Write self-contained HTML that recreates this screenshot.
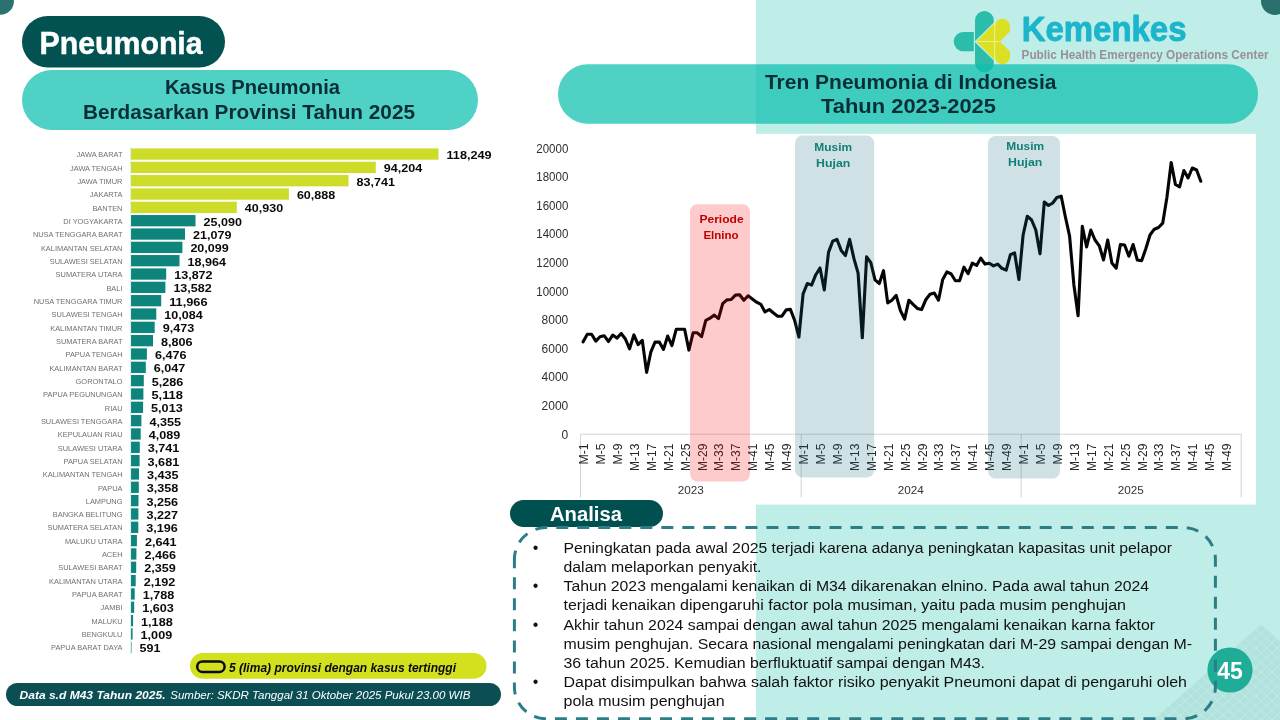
<!DOCTYPE html>
<html lang="id"><head><meta charset="utf-8"><title>Pneumonia</title>
<style>html,body{margin:0;padding:0;background:#fff}body{width:1280px;height:720px;overflow:hidden}svg{display:block}text{font-family:'Liberation Sans', sans-serif}</style></head><body>
<svg width="1280" height="720" viewBox="0 0 1280 720">
<rect x="0" y="0" width="1280" height="720" fill="#ffffff"/>
<rect x="756" y="0" width="524" height="720" fill="#bfede7"/>
<defs><pattern id="btk" width="10.8" height="9.6" patternUnits="userSpaceOnUse" patternTransform="translate(1255.6 624)"><path d="M5.4 0.5 L10.2 4.8 L5.4 9.1 L0.6 4.8 Z M0 -4.3 L4.8 0 L0 4.3 L-4.8 0 Z M10.8 -4.3 L15.6 0 L10.8 4.3 L6 0 Z M0 5.3 L4.8 9.6 L0 13.9 L-4.8 9.6 Z M10.8 5.3 L15.6 9.6 L10.8 13.9 L6 9.6 Z" fill="#afdfda"/></pattern></defs>
<path d="M1261 624 L1280 640.9 V720 H1153 Z" fill="url(#btk)" opacity="0.8"/>
<circle cx="0.3" cy="1.2" r="13.6" fill="#2a7270"/>
<circle cx="1275" cy="1" r="14" fill="#2b6e6e"/>
<g id="logo">
<path d="M973.8 31.9 H963.4 A9.7 9.7 0 0 0 963.4 51.3 H973.8 Z" fill="#2bbdaa"/>
<path d="M975 40.9 V20.4 A9.4 9.4 0 0 1 993.8 20.4 V22.6 Z" fill="#2bbdaa"/>
<path d="M975 42.3 V63.1 A9.4 9.4 0 0 0 993.8 63.1 V60.6 Z" fill="#2bbdaa"/>
<path d="M976.3 41.5 L995 22.8 V26.2 A7.5 7.5 0 0 1 1010 26.2 V31.4 L1000 41.5 L1010 51.6 V56.8 A7.5 7.5 0 0 1 995 56.8 V60.2 Z" fill="#dbe024"/>
<path d="M994.7 19.5 V63.5 M977.5 41.5 H999.5" stroke="#edf3a6" stroke-width="0.9" fill="none"/>
</g>
<text x="1021.7" y="40.9" font-size="34.5" font-weight="bold" fill="#1cb5cb" stroke="#1cb5cb" stroke-width="0.9" stroke-linejoin="round" textLength="164.8" lengthAdjust="spacingAndGlyphs">Kemenkes</text>
<text x="1021.6" y="58.8" font-size="12" font-weight="bold" fill="#9b8f96" textLength="247" lengthAdjust="spacingAndGlyphs">Public Health Emergency Operations Center</text>
<rect x="520" y="133.8" width="736" height="370.8" fill="#ffffff"/>
<rect x="558" y="64.2" width="700" height="59.6" rx="29.8" fill="#0ec0ae" fill-opacity="0.73"/>
<text x="910.7" y="88.7" font-size="21" font-weight="bold" fill="#0a2e38" text-anchor="middle" textLength="291.5" lengthAdjust="spacingAndGlyphs">Tren Pneumonia di Indonesia</text>
<text x="908.5" y="113" font-size="21" font-weight="bold" fill="#0a2e38" text-anchor="middle" textLength="175" lengthAdjust="spacingAndGlyphs">Tahun 2023-2025</text>
<rect x="22" y="16" width="203" height="51.5" rx="25.75" fill="#035252"/>
<text x="39.6" y="53.7" font-size="31" font-weight="bold" fill="#ffffff" stroke="#ffffff" stroke-width="0.5" textLength="163" lengthAdjust="spacingAndGlyphs">Pneumonia</text>
<rect x="22" y="70" width="456" height="60" rx="30" fill="#4fd1c5"/>
<text x="252.5" y="93.8" font-size="21" font-weight="bold" fill="#0a2e38" text-anchor="middle" textLength="175" lengthAdjust="spacingAndGlyphs">Kasus Pneumonia</text>
<text x="249" y="118.7" font-size="21" font-weight="bold" fill="#0a2e38" text-anchor="middle" textLength="332" lengthAdjust="spacingAndGlyphs">Berdasarkan Provinsi Tahun 2025</text>
<g id="bars">
<rect x="130.0" y="148.40" width="308.5" height="11.3" fill="#cddc29"/>
<text x="76.6" y="157.25" font-size="7.9" fill="#707070" textLength="45.9" lengthAdjust="spacingAndGlyphs">JAWA BARAT</text>
<text x="446.5" y="159.15" font-size="10.7" font-weight="bold" fill="#0a0a0a" textLength="45.1" lengthAdjust="spacingAndGlyphs">118,249</text>
<rect x="130.0" y="161.73" width="245.8" height="11.3" fill="#cddc29"/>
<text x="70.0" y="170.58" font-size="7.9" fill="#707070" textLength="52.5" lengthAdjust="spacingAndGlyphs">JAWA TENGAH</text>
<text x="383.8" y="172.48" font-size="10.7" font-weight="bold" fill="#0a0a0a" textLength="38.4" lengthAdjust="spacingAndGlyphs">94,204</text>
<rect x="130.0" y="175.06" width="218.5" height="11.3" fill="#cddc29"/>
<text x="77.4" y="183.91" font-size="7.9" fill="#707070" textLength="45.1" lengthAdjust="spacingAndGlyphs">JAWA TIMUR</text>
<text x="356.5" y="185.81" font-size="10.7" font-weight="bold" fill="#0a0a0a" textLength="38.4" lengthAdjust="spacingAndGlyphs">83,741</text>
<rect x="130.0" y="188.39" width="158.9" height="11.3" fill="#cddc29"/>
<text x="89.8" y="197.24" font-size="7.9" fill="#707070" textLength="32.7" lengthAdjust="spacingAndGlyphs">JAKARTA</text>
<text x="296.9" y="199.14" font-size="10.7" font-weight="bold" fill="#0a0a0a" textLength="38.4" lengthAdjust="spacingAndGlyphs">60,888</text>
<rect x="130.0" y="201.72" width="106.8" height="11.3" fill="#cddc29"/>
<text x="92.4" y="210.57" font-size="7.9" fill="#707070" textLength="30.1" lengthAdjust="spacingAndGlyphs">BANTEN</text>
<text x="244.8" y="212.47" font-size="10.7" font-weight="bold" fill="#0a0a0a" textLength="38.4" lengthAdjust="spacingAndGlyphs">40,930</text>
<rect x="130.0" y="215.05" width="65.5" height="11.3" fill="#0d857c"/>
<text x="63.3" y="223.90" font-size="7.9" fill="#707070" textLength="59.2" lengthAdjust="spacingAndGlyphs">DI YOGYAKARTA</text>
<text x="203.5" y="225.80" font-size="10.7" font-weight="bold" fill="#0a0a0a" textLength="38.4" lengthAdjust="spacingAndGlyphs">25,090</text>
<rect x="130.0" y="228.38" width="55.0" height="11.3" fill="#0d857c"/>
<text x="32.9" y="237.23" font-size="7.9" fill="#707070" textLength="89.6" lengthAdjust="spacingAndGlyphs">NUSA TENGGARA BARAT</text>
<text x="193.0" y="239.13" font-size="10.7" font-weight="bold" fill="#0a0a0a" textLength="38.4" lengthAdjust="spacingAndGlyphs">21,079</text>
<rect x="130.0" y="241.71" width="52.4" height="11.3" fill="#0d857c"/>
<text x="40.9" y="250.56" font-size="7.9" fill="#707070" textLength="81.6" lengthAdjust="spacingAndGlyphs">KALIMANTAN SELATAN</text>
<text x="190.4" y="252.46" font-size="10.7" font-weight="bold" fill="#0a0a0a" textLength="38.4" lengthAdjust="spacingAndGlyphs">20,099</text>
<rect x="130.0" y="255.04" width="49.5" height="11.3" fill="#0d857c"/>
<text x="49.7" y="263.89" font-size="7.9" fill="#707070" textLength="72.8" lengthAdjust="spacingAndGlyphs">SULAWESI SELATAN</text>
<text x="187.5" y="265.79" font-size="10.7" font-weight="bold" fill="#0a0a0a" textLength="38.4" lengthAdjust="spacingAndGlyphs">18,964</text>
<rect x="130.0" y="268.37" width="36.2" height="11.3" fill="#0d857c"/>
<text x="55.6" y="277.22" font-size="7.9" fill="#707070" textLength="66.9" lengthAdjust="spacingAndGlyphs">SUMATERA UTARA</text>
<text x="174.2" y="279.12" font-size="10.7" font-weight="bold" fill="#0a0a0a" textLength="38.4" lengthAdjust="spacingAndGlyphs">13,872</text>
<rect x="130.0" y="281.70" width="35.4" height="11.3" fill="#0d857c"/>
<text x="106.4" y="290.55" font-size="7.9" fill="#707070" textLength="16.1" lengthAdjust="spacingAndGlyphs">BALI</text>
<text x="173.4" y="292.45" font-size="10.7" font-weight="bold" fill="#0a0a0a" textLength="38.4" lengthAdjust="spacingAndGlyphs">13,582</text>
<rect x="130.0" y="295.03" width="31.2" height="11.3" fill="#0d857c"/>
<text x="33.7" y="303.88" font-size="7.9" fill="#707070" textLength="88.8" lengthAdjust="spacingAndGlyphs">NUSA TENGGARA TIMUR</text>
<text x="169.2" y="305.78" font-size="10.7" font-weight="bold" fill="#0a0a0a" textLength="38.4" lengthAdjust="spacingAndGlyphs">11,966</text>
<rect x="130.0" y="308.36" width="26.3" height="11.3" fill="#0d857c"/>
<text x="51.6" y="317.21" font-size="7.9" fill="#707070" textLength="70.9" lengthAdjust="spacingAndGlyphs">SULAWESI TENGAH</text>
<text x="164.3" y="319.11" font-size="10.7" font-weight="bold" fill="#0a0a0a" textLength="38.4" lengthAdjust="spacingAndGlyphs">10,084</text>
<rect x="130.0" y="321.69" width="24.7" height="11.3" fill="#0d857c"/>
<text x="50.2" y="330.54" font-size="7.9" fill="#707070" textLength="72.3" lengthAdjust="spacingAndGlyphs">KALIMANTAN TIMUR</text>
<text x="162.7" y="332.44" font-size="10.7" font-weight="bold" fill="#0a0a0a" textLength="31.6" lengthAdjust="spacingAndGlyphs">9,473</text>
<rect x="130.0" y="335.02" width="23.0" height="11.3" fill="#0d857c"/>
<text x="56.0" y="343.87" font-size="7.9" fill="#707070" textLength="66.5" lengthAdjust="spacingAndGlyphs">SUMATERA BARAT</text>
<text x="161.0" y="345.77" font-size="10.7" font-weight="bold" fill="#0a0a0a" textLength="31.6" lengthAdjust="spacingAndGlyphs">8,806</text>
<rect x="130.0" y="348.35" width="16.9" height="11.3" fill="#0d857c"/>
<text x="65.5" y="357.20" font-size="7.9" fill="#707070" textLength="57.0" lengthAdjust="spacingAndGlyphs">PAPUA TENGAH</text>
<text x="154.9" y="359.10" font-size="10.7" font-weight="bold" fill="#0a0a0a" textLength="31.6" lengthAdjust="spacingAndGlyphs">6,476</text>
<rect x="130.0" y="361.68" width="15.8" height="11.3" fill="#0d857c"/>
<text x="49.4" y="370.53" font-size="7.9" fill="#707070" textLength="73.1" lengthAdjust="spacingAndGlyphs">KALIMANTAN BARAT</text>
<text x="153.8" y="372.43" font-size="10.7" font-weight="bold" fill="#0a0a0a" textLength="31.6" lengthAdjust="spacingAndGlyphs">6,047</text>
<rect x="130.0" y="375.01" width="13.8" height="11.3" fill="#0d857c"/>
<text x="75.6" y="383.86" font-size="7.9" fill="#707070" textLength="46.9" lengthAdjust="spacingAndGlyphs">GORONTALO</text>
<text x="151.8" y="385.76" font-size="10.7" font-weight="bold" fill="#0a0a0a" textLength="31.6" lengthAdjust="spacingAndGlyphs">5,286</text>
<rect x="130.0" y="388.34" width="13.4" height="11.3" fill="#0d857c"/>
<text x="43.1" y="397.19" font-size="7.9" fill="#707070" textLength="79.4" lengthAdjust="spacingAndGlyphs">PAPUA PEGUNUNGAN</text>
<text x="151.4" y="399.09" font-size="10.7" font-weight="bold" fill="#0a0a0a" textLength="31.6" lengthAdjust="spacingAndGlyphs">5,118</text>
<rect x="130.0" y="401.67" width="13.1" height="11.3" fill="#0d857c"/>
<text x="104.8" y="410.52" font-size="7.9" fill="#707070" textLength="17.7" lengthAdjust="spacingAndGlyphs">RIAU</text>
<text x="151.1" y="412.42" font-size="10.7" font-weight="bold" fill="#0a0a0a" textLength="31.6" lengthAdjust="spacingAndGlyphs">5,013</text>
<rect x="130.0" y="415.00" width="11.4" height="11.3" fill="#0d857c"/>
<text x="40.9" y="423.85" font-size="7.9" fill="#707070" textLength="81.6" lengthAdjust="spacingAndGlyphs">SULAWESI TENGGARA</text>
<text x="149.4" y="425.75" font-size="10.7" font-weight="bold" fill="#0a0a0a" textLength="31.6" lengthAdjust="spacingAndGlyphs">4,355</text>
<rect x="130.0" y="428.33" width="10.7" height="11.3" fill="#0d857c"/>
<text x="57.8" y="437.18" font-size="7.9" fill="#707070" textLength="64.7" lengthAdjust="spacingAndGlyphs">KEPULAUAN RIAU</text>
<text x="148.7" y="439.08" font-size="10.7" font-weight="bold" fill="#0a0a0a" textLength="31.6" lengthAdjust="spacingAndGlyphs">4,089</text>
<rect x="130.0" y="441.66" width="9.8" height="11.3" fill="#0d857c"/>
<text x="57.8" y="450.51" font-size="7.9" fill="#707070" textLength="64.7" lengthAdjust="spacingAndGlyphs">SULAWESI UTARA</text>
<text x="147.8" y="452.41" font-size="10.7" font-weight="bold" fill="#0a0a0a" textLength="31.6" lengthAdjust="spacingAndGlyphs">3,741</text>
<rect x="130.0" y="454.99" width="9.6" height="11.3" fill="#0d857c"/>
<text x="63.5" y="463.84" font-size="7.9" fill="#707070" textLength="59.0" lengthAdjust="spacingAndGlyphs">PAPUA SELATAN</text>
<text x="147.6" y="465.74" font-size="10.7" font-weight="bold" fill="#0a0a0a" textLength="31.6" lengthAdjust="spacingAndGlyphs">3,681</text>
<rect x="130.0" y="468.32" width="9.0" height="11.3" fill="#0d857c"/>
<text x="42.8" y="477.17" font-size="7.9" fill="#707070" textLength="79.7" lengthAdjust="spacingAndGlyphs">KALIMANTAN TENGAH</text>
<text x="147.0" y="479.07" font-size="10.7" font-weight="bold" fill="#0a0a0a" textLength="31.6" lengthAdjust="spacingAndGlyphs">3,435</text>
<rect x="130.0" y="481.65" width="8.8" height="11.3" fill="#0d857c"/>
<text x="97.9" y="490.50" font-size="7.9" fill="#707070" textLength="24.6" lengthAdjust="spacingAndGlyphs">PAPUA</text>
<text x="146.8" y="492.40" font-size="10.7" font-weight="bold" fill="#0a0a0a" textLength="31.6" lengthAdjust="spacingAndGlyphs">3,358</text>
<rect x="130.0" y="494.98" width="8.5" height="11.3" fill="#0d857c"/>
<text x="85.8" y="503.83" font-size="7.9" fill="#707070" textLength="36.7" lengthAdjust="spacingAndGlyphs">LAMPUNG</text>
<text x="146.5" y="505.73" font-size="10.7" font-weight="bold" fill="#0a0a0a" textLength="31.6" lengthAdjust="spacingAndGlyphs">3,256</text>
<rect x="130.0" y="508.31" width="8.4" height="11.3" fill="#0d857c"/>
<text x="52.8" y="517.16" font-size="7.9" fill="#707070" textLength="69.7" lengthAdjust="spacingAndGlyphs">BANGKA BELITUNG</text>
<text x="146.4" y="519.06" font-size="10.7" font-weight="bold" fill="#0a0a0a" textLength="31.6" lengthAdjust="spacingAndGlyphs">3,227</text>
<rect x="130.0" y="521.64" width="8.3" height="11.3" fill="#0d857c"/>
<text x="47.5" y="530.49" font-size="7.9" fill="#707070" textLength="75.0" lengthAdjust="spacingAndGlyphs">SUMATERA SELATAN</text>
<text x="146.3" y="532.39" font-size="10.7" font-weight="bold" fill="#0a0a0a" textLength="31.6" lengthAdjust="spacingAndGlyphs">3,196</text>
<rect x="130.0" y="534.97" width="6.9" height="11.3" fill="#0d857c"/>
<text x="64.9" y="543.82" font-size="7.9" fill="#707070" textLength="57.6" lengthAdjust="spacingAndGlyphs">MALUKU UTARA</text>
<text x="144.9" y="545.72" font-size="10.7" font-weight="bold" fill="#0a0a0a" textLength="31.6" lengthAdjust="spacingAndGlyphs">2,641</text>
<rect x="130.0" y="548.30" width="6.4" height="11.3" fill="#0d857c"/>
<text x="101.9" y="557.15" font-size="7.9" fill="#707070" textLength="20.6" lengthAdjust="spacingAndGlyphs">ACEH</text>
<text x="144.4" y="559.05" font-size="10.7" font-weight="bold" fill="#0a0a0a" textLength="31.6" lengthAdjust="spacingAndGlyphs">2,466</text>
<rect x="130.0" y="561.63" width="6.2" height="11.3" fill="#0d857c"/>
<text x="58.2" y="570.48" font-size="7.9" fill="#707070" textLength="64.3" lengthAdjust="spacingAndGlyphs">SULAWESI BARAT</text>
<text x="144.2" y="572.38" font-size="10.7" font-weight="bold" fill="#0a0a0a" textLength="31.6" lengthAdjust="spacingAndGlyphs">2,359</text>
<rect x="130.0" y="574.96" width="5.7" height="11.3" fill="#0d857c"/>
<text x="49.0" y="583.81" font-size="7.9" fill="#707070" textLength="73.5" lengthAdjust="spacingAndGlyphs">KALIMANTAN UTARA</text>
<text x="143.7" y="585.71" font-size="10.7" font-weight="bold" fill="#0a0a0a" textLength="31.6" lengthAdjust="spacingAndGlyphs">2,192</text>
<rect x="130.0" y="588.29" width="4.7" height="11.3" fill="#0d857c"/>
<text x="72.1" y="597.14" font-size="7.9" fill="#707070" textLength="50.4" lengthAdjust="spacingAndGlyphs">PAPUA BARAT</text>
<text x="142.7" y="599.04" font-size="10.7" font-weight="bold" fill="#0a0a0a" textLength="31.6" lengthAdjust="spacingAndGlyphs">1,788</text>
<rect x="130.0" y="601.62" width="4.2" height="11.3" fill="#0d857c"/>
<text x="100.6" y="610.47" font-size="7.9" fill="#707070" textLength="21.9" lengthAdjust="spacingAndGlyphs">JAMBI</text>
<text x="142.2" y="612.37" font-size="10.7" font-weight="bold" fill="#0a0a0a" textLength="31.6" lengthAdjust="spacingAndGlyphs">1,603</text>
<rect x="130.0" y="614.95" width="3.1" height="11.3" fill="#0d857c"/>
<text x="91.6" y="623.80" font-size="7.9" fill="#707070" textLength="30.9" lengthAdjust="spacingAndGlyphs">MALUKU</text>
<text x="141.1" y="625.70" font-size="10.7" font-weight="bold" fill="#0a0a0a" textLength="31.6" lengthAdjust="spacingAndGlyphs">1,188</text>
<rect x="130.0" y="628.28" width="2.6" height="11.3" fill="#0d857c"/>
<text x="81.7" y="637.13" font-size="7.9" fill="#707070" textLength="40.8" lengthAdjust="spacingAndGlyphs">BENGKULU</text>
<text x="140.6" y="639.03" font-size="10.7" font-weight="bold" fill="#0a0a0a" textLength="31.6" lengthAdjust="spacingAndGlyphs">1,009</text>
<rect x="130.0" y="641.61" width="1.5" height="11.3" fill="#0d857c"/>
<text x="51.0" y="650.46" font-size="7.9" fill="#707070" textLength="71.5" lengthAdjust="spacingAndGlyphs">PAPUA BARAT DAYA</text>
<text x="139.5" y="652.36" font-size="10.7" font-weight="bold" fill="#0a0a0a" textLength="20.9" lengthAdjust="spacingAndGlyphs">591</text>
<line x1="130.5" y1="146.5" x2="130.5" y2="655" stroke="#dcf1f0" stroke-width="1.1"/>
</g>
<rect x="190" y="653" width="296.5" height="25.8" rx="12.9" fill="#d3e01e"/>
<rect x="197.2" y="661.4" width="27.4" height="10.6" rx="5.3" fill="#d3e01e" stroke="#0a0a0a" stroke-width="2.5"/>
<text x="229" y="671.6" font-size="12.3" font-weight="bold" font-style="italic" fill="#0a0a0a" textLength="227" lengthAdjust="spacingAndGlyphs">5 (lima) provinsi dengan kasus tertinggi</text>
<rect x="6" y="683" width="495" height="23" rx="11.5" fill="#0b4f55"/>
<text x="19.5" y="698.9" font-size="11.6" font-style="italic" font-weight="bold" fill="#ffffff" textLength="146" lengthAdjust="spacingAndGlyphs">Data s.d M43 Tahun 2025.</text>
<text x="170.3" y="698.9" font-size="11.6" font-style="italic" fill="#ffffff" textLength="300" lengthAdjust="spacingAndGlyphs">Sumber: SKDR Tanggal 31 Oktober 2025 Pukul 23.00 WIB</text>
<g id="trend">
<text x="568.3" y="438.6" font-size="12" fill="#2e2e2e" text-anchor="end">0</text>
<text x="568.3" y="410.0" font-size="12" fill="#2e2e2e" text-anchor="end">2000</text>
<text x="568.3" y="381.4" font-size="12" fill="#2e2e2e" text-anchor="end">4000</text>
<text x="568.3" y="352.8" font-size="12" fill="#2e2e2e" text-anchor="end">6000</text>
<text x="568.3" y="324.2" font-size="12" fill="#2e2e2e" text-anchor="end">8000</text>
<text x="568.3" y="295.6" font-size="12" fill="#2e2e2e" text-anchor="end" textLength="32" lengthAdjust="spacingAndGlyphs">10000</text>
<text x="568.3" y="267.0" font-size="12" fill="#2e2e2e" text-anchor="end" textLength="32" lengthAdjust="spacingAndGlyphs">12000</text>
<text x="568.3" y="238.4" font-size="12" fill="#2e2e2e" text-anchor="end" textLength="32" lengthAdjust="spacingAndGlyphs">14000</text>
<text x="568.3" y="209.8" font-size="12" fill="#2e2e2e" text-anchor="end" textLength="32" lengthAdjust="spacingAndGlyphs">16000</text>
<text x="568.3" y="181.2" font-size="12" fill="#2e2e2e" text-anchor="end" textLength="32" lengthAdjust="spacingAndGlyphs">18000</text>
<text x="568.3" y="152.7" font-size="12" fill="#2e2e2e" text-anchor="end" textLength="32" lengthAdjust="spacingAndGlyphs">20000</text>
<path d="M580 434.2 H1241.5 M580.5 434 V497.5 M801.2 434 V497.5 M1021.2 434 V497.5 M1241.2 434 V497.5" stroke="#d4d4d4" stroke-width="1" fill="none"/>
<text transform="translate(588.0 464.5) rotate(-90)" font-size="12.3" fill="#262626" textLength="21.0" lengthAdjust="spacingAndGlyphs">M-1</text>
<text transform="translate(604.9 464.5) rotate(-90)" font-size="12.3" fill="#262626" textLength="21.0" lengthAdjust="spacingAndGlyphs">M-5</text>
<text transform="translate(621.8 464.5) rotate(-90)" font-size="12.3" fill="#262626" textLength="21.0" lengthAdjust="spacingAndGlyphs">M-9</text>
<text transform="translate(638.8 471.0) rotate(-90)" font-size="12.3" fill="#262626" textLength="27.5" lengthAdjust="spacingAndGlyphs">M-13</text>
<text transform="translate(655.7 471.0) rotate(-90)" font-size="12.3" fill="#262626" textLength="27.5" lengthAdjust="spacingAndGlyphs">M-17</text>
<text transform="translate(672.6 471.0) rotate(-90)" font-size="12.3" fill="#262626" textLength="27.5" lengthAdjust="spacingAndGlyphs">M-21</text>
<text transform="translate(689.5 471.0) rotate(-90)" font-size="12.3" fill="#262626" textLength="27.5" lengthAdjust="spacingAndGlyphs">M-25</text>
<text transform="translate(706.5 471.0) rotate(-90)" font-size="12.3" fill="#262626" textLength="27.5" lengthAdjust="spacingAndGlyphs">M-29</text>
<text transform="translate(723.4 471.0) rotate(-90)" font-size="12.3" fill="#262626" textLength="27.5" lengthAdjust="spacingAndGlyphs">M-33</text>
<text transform="translate(740.3 471.0) rotate(-90)" font-size="12.3" fill="#262626" textLength="27.5" lengthAdjust="spacingAndGlyphs">M-37</text>
<text transform="translate(757.2 471.0) rotate(-90)" font-size="12.3" fill="#262626" textLength="27.5" lengthAdjust="spacingAndGlyphs">M-41</text>
<text transform="translate(774.2 471.0) rotate(-90)" font-size="12.3" fill="#262626" textLength="27.5" lengthAdjust="spacingAndGlyphs">M-45</text>
<text transform="translate(791.1 471.0) rotate(-90)" font-size="12.3" fill="#262626" textLength="27.5" lengthAdjust="spacingAndGlyphs">M-49</text>
<text transform="translate(808.0 464.5) rotate(-90)" font-size="12.3" fill="#262626" textLength="21.0" lengthAdjust="spacingAndGlyphs">M-1</text>
<text transform="translate(824.9 464.5) rotate(-90)" font-size="12.3" fill="#262626" textLength="21.0" lengthAdjust="spacingAndGlyphs">M-5</text>
<text transform="translate(841.8 464.5) rotate(-90)" font-size="12.3" fill="#262626" textLength="21.0" lengthAdjust="spacingAndGlyphs">M-9</text>
<text transform="translate(858.8 471.0) rotate(-90)" font-size="12.3" fill="#262626" textLength="27.5" lengthAdjust="spacingAndGlyphs">M-13</text>
<text transform="translate(875.7 471.0) rotate(-90)" font-size="12.3" fill="#262626" textLength="27.5" lengthAdjust="spacingAndGlyphs">M-17</text>
<text transform="translate(892.6 471.0) rotate(-90)" font-size="12.3" fill="#262626" textLength="27.5" lengthAdjust="spacingAndGlyphs">M-21</text>
<text transform="translate(909.5 471.0) rotate(-90)" font-size="12.3" fill="#262626" textLength="27.5" lengthAdjust="spacingAndGlyphs">M-25</text>
<text transform="translate(926.5 471.0) rotate(-90)" font-size="12.3" fill="#262626" textLength="27.5" lengthAdjust="spacingAndGlyphs">M-29</text>
<text transform="translate(943.4 471.0) rotate(-90)" font-size="12.3" fill="#262626" textLength="27.5" lengthAdjust="spacingAndGlyphs">M-33</text>
<text transform="translate(960.3 471.0) rotate(-90)" font-size="12.3" fill="#262626" textLength="27.5" lengthAdjust="spacingAndGlyphs">M-37</text>
<text transform="translate(977.2 471.0) rotate(-90)" font-size="12.3" fill="#262626" textLength="27.5" lengthAdjust="spacingAndGlyphs">M-41</text>
<text transform="translate(994.2 471.0) rotate(-90)" font-size="12.3" fill="#262626" textLength="27.5" lengthAdjust="spacingAndGlyphs">M-45</text>
<text transform="translate(1011.1 471.0) rotate(-90)" font-size="12.3" fill="#262626" textLength="27.5" lengthAdjust="spacingAndGlyphs">M-49</text>
<text transform="translate(1028.0 464.5) rotate(-90)" font-size="12.3" fill="#262626" textLength="21.0" lengthAdjust="spacingAndGlyphs">M-1</text>
<text transform="translate(1044.9 464.5) rotate(-90)" font-size="12.3" fill="#262626" textLength="21.0" lengthAdjust="spacingAndGlyphs">M-5</text>
<text transform="translate(1061.8 464.5) rotate(-90)" font-size="12.3" fill="#262626" textLength="21.0" lengthAdjust="spacingAndGlyphs">M-9</text>
<text transform="translate(1078.8 471.0) rotate(-90)" font-size="12.3" fill="#262626" textLength="27.5" lengthAdjust="spacingAndGlyphs">M-13</text>
<text transform="translate(1095.7 471.0) rotate(-90)" font-size="12.3" fill="#262626" textLength="27.5" lengthAdjust="spacingAndGlyphs">M-17</text>
<text transform="translate(1112.6 471.0) rotate(-90)" font-size="12.3" fill="#262626" textLength="27.5" lengthAdjust="spacingAndGlyphs">M-21</text>
<text transform="translate(1129.5 471.0) rotate(-90)" font-size="12.3" fill="#262626" textLength="27.5" lengthAdjust="spacingAndGlyphs">M-25</text>
<text transform="translate(1146.5 471.0) rotate(-90)" font-size="12.3" fill="#262626" textLength="27.5" lengthAdjust="spacingAndGlyphs">M-29</text>
<text transform="translate(1163.4 471.0) rotate(-90)" font-size="12.3" fill="#262626" textLength="27.5" lengthAdjust="spacingAndGlyphs">M-33</text>
<text transform="translate(1180.3 471.0) rotate(-90)" font-size="12.3" fill="#262626" textLength="27.5" lengthAdjust="spacingAndGlyphs">M-37</text>
<text transform="translate(1197.2 471.0) rotate(-90)" font-size="12.3" fill="#262626" textLength="27.5" lengthAdjust="spacingAndGlyphs">M-41</text>
<text transform="translate(1214.2 471.0) rotate(-90)" font-size="12.3" fill="#262626" textLength="27.5" lengthAdjust="spacingAndGlyphs">M-45</text>
<text transform="translate(1231.1 471.0) rotate(-90)" font-size="12.3" fill="#262626" textLength="27.5" lengthAdjust="spacingAndGlyphs">M-49</text>
<text x="690.8" y="493.7" font-size="11.7" fill="#333" text-anchor="middle">2023</text>
<text x="910.8" y="493.7" font-size="11.7" fill="#333" text-anchor="middle">2024</text>
<text x="1130.8" y="493.7" font-size="11.7" fill="#333" text-anchor="middle">2025</text>
<polyline points="583.1,341.8 587.3,334.2 591.6,334.2 595.8,341.1 600.0,336.7 604.3,335.8 608.5,341.5 612.7,335.1 616.9,338.1 621.2,333.5 625.4,339.0 629.6,348.8 633.9,334.9 638.1,344.6 642.3,340.4 646.6,372.4 650.8,352.2 655.0,342.1 659.3,342.1 663.5,349.4 667.7,336.0 671.9,345.6 676.2,329.3 680.4,329.3 684.6,329.3 688.9,350.1 693.1,332.8 697.3,332.8 701.6,336.7 705.8,320.3 710.0,318.2 714.3,315.1 718.5,318.6 722.7,303.6 726.9,299.9 731.2,299.5 735.4,295.1 739.6,294.7 743.9,300.3 748.1,295.8 752.3,299.0 756.6,302.2 760.8,304.3 765.0,311.9 769.3,309.5 773.5,313.0 777.7,316.2 781.9,316.2 786.2,309.8 790.4,309.4 794.6,320.2 798.9,337.0 803.1,293.9 807.3,283.5 811.6,285.1 815.8,274.7 820.0,268.0 824.3,289.9 828.5,252.4 832.7,241.2 836.9,239.3 841.2,250.4 845.4,255.5 849.6,239.3 853.9,258.4 858.1,273.1 862.3,337.8 866.6,256.8 870.8,262.7 875.0,279.8 879.3,283.5 883.5,270.7 887.7,302.9 891.9,300.2 896.2,295.3 900.4,310.5 904.6,319.2 908.9,300.2 913.1,304.4 917.3,308.4 921.6,309.6 925.8,299.7 930.0,294.3 934.3,293.0 938.5,300.2 942.7,279.5 946.9,271.9 951.2,274.0 955.4,280.7 959.6,280.7 963.9,267.2 968.1,273.7 972.3,263.2 976.6,265.4 980.8,258.1 985.0,264.1 989.3,263.2 993.5,265.9 997.7,264.1 1001.9,268.3 1006.2,270.1 1010.4,254.7 1014.6,252.9 1018.9,279.5 1023.1,235.0 1027.3,216.2 1031.6,220.0 1035.8,230.0 1040.0,253.8 1044.3,202.0 1048.5,205.5 1052.7,203.0 1056.9,197.5 1061.2,196.2 1065.4,217.0 1069.6,236.2 1073.9,285.0 1078.1,315.8 1082.3,226.2 1086.6,247.0 1090.8,230.0 1095.0,240.0 1099.3,245.8 1103.5,260.0 1107.7,240.0 1111.9,263.0 1116.2,268.2 1120.4,244.5 1124.6,245.0 1128.9,256.2 1133.1,244.5 1137.3,260.0 1141.6,260.8 1145.8,248.8 1150.0,235.0 1154.3,229.2 1158.5,227.5 1162.7,223.2 1166.9,197.5 1171.2,162.5 1175.4,184.5 1179.6,186.8 1183.9,170.5 1188.1,178.0 1192.3,168.0 1196.6,170.0 1200.8,181.2" fill="none" stroke="#050505" stroke-width="3.1" stroke-linejoin="round" stroke-linecap="round"/>
<rect x="690" y="204.2" width="60" height="277.3" rx="7.5" fill="#f60a10" fill-opacity="0.213"/>
<rect x="795" y="135.5" width="79.2" height="342" rx="7.5" fill="#0f6b7d" fill-opacity="0.2"/>
<rect x="988" y="136" width="72" height="342.5" rx="7.5" fill="#0f6b7d" fill-opacity="0.2"/>
<text x="721.5" y="222.6" font-size="10.7" font-weight="bold" fill="#c00000" text-anchor="middle" textLength="44.2" lengthAdjust="spacingAndGlyphs">Periode</text>
<text x="721.0" y="238.5" font-size="10.7" font-weight="bold" fill="#c00000" text-anchor="middle" textLength="35.2" lengthAdjust="spacingAndGlyphs">Elnino</text>
<text x="833.2" y="150.9" font-size="10.7" font-weight="bold" fill="#0f7f78" text-anchor="middle" textLength="37.8" lengthAdjust="spacingAndGlyphs">Musim</text>
<text x="833.2" y="167.0" font-size="10.7" font-weight="bold" fill="#0f7f78" text-anchor="middle" textLength="34.2" lengthAdjust="spacingAndGlyphs">Hujan</text>
<text x="1025.2" y="149.9" font-size="10.7" font-weight="bold" fill="#0f7f78" text-anchor="middle" textLength="37.8" lengthAdjust="spacingAndGlyphs">Musim</text>
<text x="1025.2" y="166.0" font-size="10.7" font-weight="bold" fill="#0f7f78" text-anchor="middle" textLength="34.2" lengthAdjust="spacingAndGlyphs">Hujan</text>
</g>
<rect x="510" y="500" width="153" height="27" rx="13.6" fill="#00504f"/>
<text x="586" y="521" font-size="20" font-weight="bold" fill="#ffffff" text-anchor="middle" textLength="72" lengthAdjust="spacingAndGlyphs">Analisa</text>
<circle cx="1230" cy="670" r="22.6" fill="#1fad97"/>
<text x="1230" y="678.5" font-size="23" font-weight="bold" fill="#ffffff" text-anchor="middle">45</text>
<path d="M514.4 559.3 A31.8 31.8 0 0 1 546.2 527.5 H1183.6 A31.8 31.8 0 0 1 1215.4 559.3 V686.9 A31.8 31.8 0 0 1 1183.6 718.7 H546.2 A31.8 31.8 0 0 1 514.4 686.9 Z" fill="none" stroke="#2d7d87" stroke-width="3" stroke-dasharray="12 9.02" stroke-dashoffset="3.16"/>
<text x="532.8" y="553.3" font-size="16" fill="#111">•</text>
<text x="563.5" y="553.3" font-size="14.7" fill="#111" textLength="608.5" lengthAdjust="spacingAndGlyphs">Peningkatan pada awal 2025 terjadi karena adanya peningkatan kapasitas unit pelapor</text>
<text x="563.5" y="572.3" font-size="14.7" fill="#111" textLength="198.0" lengthAdjust="spacingAndGlyphs">dalam melaporkan penyakit.</text>
<text x="532.8" y="591.4" font-size="16" fill="#111">•</text>
<text x="563.5" y="591.4" font-size="14.7" fill="#111" textLength="585.5" lengthAdjust="spacingAndGlyphs">Tahun 2023 mengalami kenaikan di M34 dikarenakan elnino. Pada awal tahun 2024</text>
<text x="563.5" y="610.4" font-size="14.7" fill="#111" textLength="562.5" lengthAdjust="spacingAndGlyphs">terjadi kenaikan dipengaruhi factor pola musiman, yaitu pada musim penghujan</text>
<text x="532.8" y="629.5" font-size="16" fill="#111">•</text>
<text x="563.5" y="629.5" font-size="14.7" fill="#111" textLength="591.5" lengthAdjust="spacingAndGlyphs">Akhir tahun 2024 sampai dengan awal tahun 2025 mengalami kenaikan karna faktor</text>
<text x="563.5" y="648.5" font-size="14.7" fill="#111" textLength="628.5" lengthAdjust="spacingAndGlyphs">musim penghujan. Secara nasional mengalami peningkatan dari M-29 sampai dengan M-</text>
<text x="563.5" y="667.5" font-size="14.7" fill="#111" textLength="421.5" lengthAdjust="spacingAndGlyphs">36 tahun 2025. Kemudian berfluktuatif sampai dengan M43.</text>
<text x="532.8" y="686.6" font-size="16" fill="#111">•</text>
<text x="563.5" y="686.6" font-size="14.7" fill="#111" textLength="623.5" lengthAdjust="spacingAndGlyphs">Dapat disimpulkan bahwa salah faktor risiko penyakit Pneumoni dapat di pengaruhi oleh</text>
<text x="563.5" y="705.6" font-size="14.7" fill="#111" textLength="161.1" lengthAdjust="spacingAndGlyphs">pola musim penghujan</text>
</svg></body></html>
